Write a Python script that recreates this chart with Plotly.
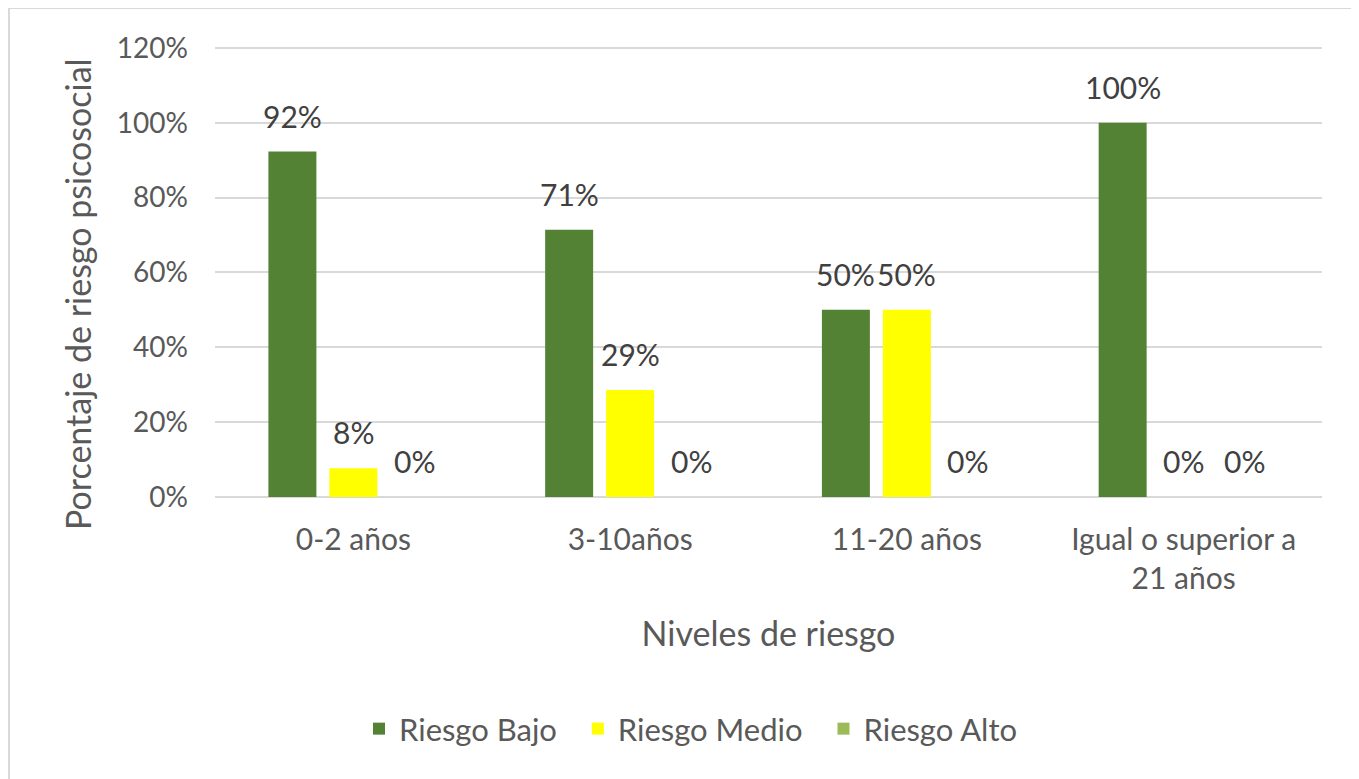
import plotly.graph_objects as go

categories = ["0-2 años", "3-10años", "11-20 años", "Igual o superior a<br>21 años"]
riesgo_bajo = [0.923, 0.714, 0.50, 1.00]
riesgo_medio = [0.077, 0.286, 0.50, 0.0]
riesgo_alto = [0.0, 0.0, 0.0, 0.0]
series_names = ["Riesgo Bajo", "Riesgo Medio", "Riesgo Alto"]
series_colors = ["#548235", "#FFFF00", "#9BBB59"]
y_ticks = [0, 0.2, 0.4, 0.6, 0.8, 1.0, 1.2]

FONT = "Lato"
series = [riesgo_bajo, riesgo_medio, riesgo_alto]
legend_pad = ["\u00a0\u00a0", "\u00a0\u00a0", ""]

fig = go.Figure()
for name, vals, col, pad in zip(series_names, series, series_colors, legend_pad):
    fig.add_trace(go.Bar(
        x=categories, y=vals, name=name + pad,
        marker=dict(color=col, line=dict(width=0)),
    ))

# page has an 8px body margin, so the figure is offset by (8, 8)
W, H = 1351, 771
Y_MAX = 1.205
L = 207
PW = 1107
PH = round(449 * Y_MAX / 1.2)
T = 40 + 449 - PH
R = W - L - PW
B = H - T - PH

def px(x):
    return (x - L) / PW

def py(y):
    return (T + PH - y) / PH

SLOT = 61  # pixel offset between bars within a group
annotations = []
for i, vals in enumerate(series):
    for cat, v in zip(categories, vals):
        annotations.append(dict(
            x=cat, y=v, xref="x", yref="y", text=f"{v:.0%}", showarrow=False,
            xshift=(i - 1) * SLOT, yshift=16, yanchor="bottom", xanchor="center",
            font=dict(family=FONT, size=30, color="#404040"),
        ))

annotations.append(dict(
    text="Porcentaje de riesgo psicosocial", textangle=-90, showarrow=False,
    xref="paper", yref="paper", x=px(69), y=py(286), xanchor="center", yanchor="middle",
    font=dict(family=FONT, size=34, color="#595959"),
))

fig.update_layout(
    width=W, height=H,
    margin=dict(l=L, r=R, t=T, b=B, autoexpand=False),
    paper_bgcolor="white", plot_bgcolor="white",
    barmode="group", bargap=0.339, bargroupgap=0.213,
    font=dict(family=FONT, color="#595959"),
    showlegend=True,
    legend=dict(orientation="h", xref="container", x=683 / W, xanchor="center",
                yref="container", y=(H - 721) / H, yanchor="middle",
                font=dict(family=FONT, size=31, color="#595959"),
                itemwidth=30, traceorder="normal"),
    xaxis=dict(showgrid=False, showline=False, ticks="",
               tickfont=dict(family=FONT, size=30, color="#595959"),
               ticklabelstandoff=22,
               title=dict(text="Niveles de riesgo", font=dict(family=FONT, size=34, color="#595959"),
                          standoff=28)),
    yaxis=dict(range=[0, Y_MAX], tickvals=y_ticks, tickformat=".0%",
               showgrid=True, gridcolor="#d9d9d9", gridwidth=2,
               zeroline=True, zerolinecolor="#d9d9d9", zerolinewidth=2,
               showline=False, ticks="",
               tickfont=dict(family=FONT, size=28, color="#595959"),
               ticklabelstandoff=26),
    annotations=annotations,
    shapes=[dict(type="rect", xref="paper", yref="paper",
                 x0=px(1), x1=px(W + 20), y0=py(H + 20), y1=py(0),
                 line=dict(color="#d9d9d9", width=2), fillcolor="rgba(0,0,0,0)", layer="below")],
)

fig.write_html("out.html")
